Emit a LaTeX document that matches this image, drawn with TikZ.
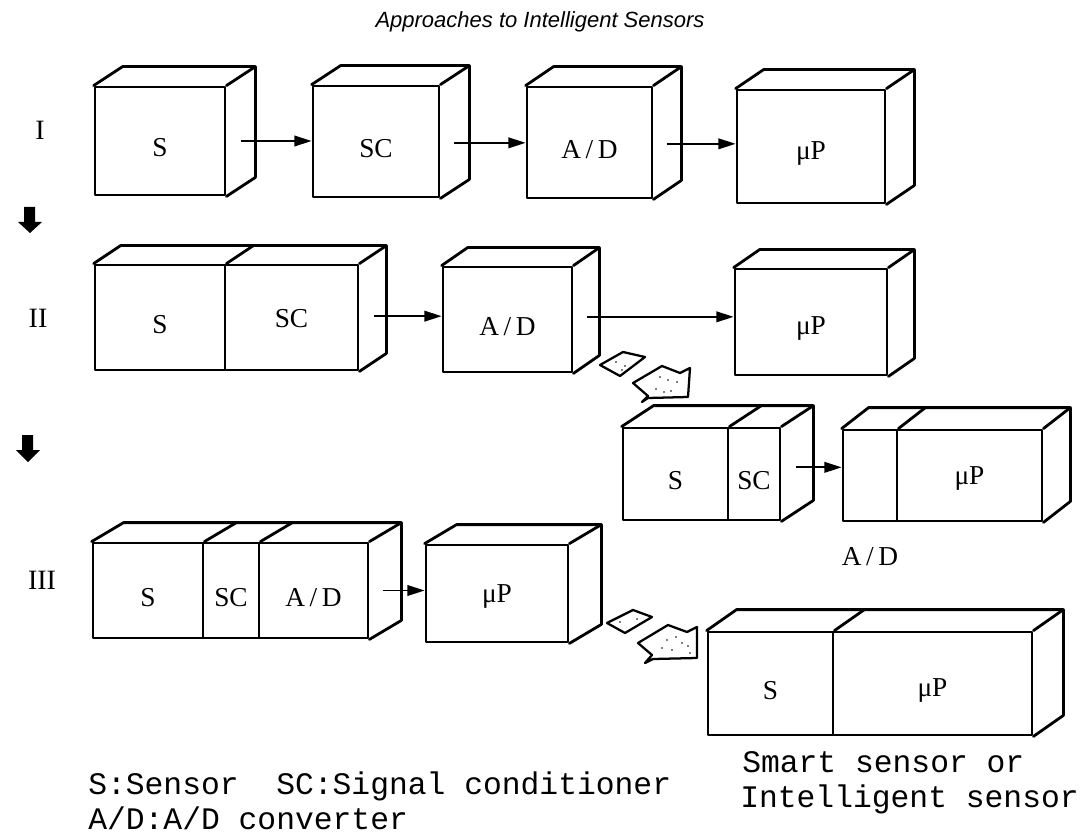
\documentclass[tikz,border=0pt]{standalone}
\usepackage{fontspec}
\setmainfont{Liberation Serif}
\setmonofont{Liberation Mono}
\newfontfamily\titlefont{Liberation Sans}
\usetikzlibrary{calc,fit,arrows.meta}
\tikzset{
  edge/.style={line width=2.1pt, line join=round, line cap=round},
  face/.style={edge, draw, inner sep=0pt},
  lbl/.style={inner sep=0pt, yshift=-5pt, font=\fontsize{20.5}{22}\selectfont},
  arr/.style={line width=1.4pt, -{Triangle[length=13pt,width=8pt]}},
  blob/.style={line width=1.7pt, line join=round},
  legend/.style={anchor=west, inner sep=0pt, font=\ttfamily\fontsize{23.5}{25}\selectfont},
  roman/.style={font=\fontsize{21}{23}\selectfont},
}
\newcommand{\cubefaces}[4]{%
  \draw[edge] (#1.north west) -- ++(#3,#4) -- ($(#2.north east)+(#3,#4)$) -- ($(#2.south east)+(#3,#4)$) -- (#2.south east);
  \draw[edge] (#2.north east) -- ++(#3,#4);}
\newcommand{\cubediv}[3]{\draw[edge] (#1.north east) -- ++(#2,#3);}
\newcommand{\hconn}[4]{% from node #1 (x shift #3, y shift #4) to node #2
  \coordinate (#1-out) at ([xshift=#3,yshift=#4]#1.east);
  \draw[arr] (#1-out) -- (#1-out -| #2.west);}
\begin{document}
\begin{tikzpicture}[x=0.75pt,y=-0.75pt]
\useasboundingbox (0,0) rectangle (1081,834);
% title
\node[font=\titlefont\itshape\fontsize{16.5}{18}\selectfont] (title) at (540,22) {Approaches to Intelligent Sensors};
% roman numerals
\node[roman] (r1) at (40,130) {I};
\node[roman] (r2) at (38,318) {II};
\node[roman] (r3) at (42,580) {III};
% down arrows
\fill (24,207) -- (35,207) -- (35,222) -- (42,222) -- (30,233) -- (18,222) -- (24,222) -- cycle;
\fill (22,435) -- (33,435) -- (33,450) -- (40,450) -- (28,462) -- (16,450) -- (22,450) -- cycle;

% Row I
\node[face, fit={(95,87) (225,195)}] (s1) {};
\node[face, fit={(313,86) (439,197)}] (sc1) {};
\node[face, fit={(527,87) (652,198)}] (ad1) {};
\node[face, fit={(737,90) (885,203)}] (up1) {};
\node[lbl] (s1t) at (s1.center) {S};
\node[lbl] (sc1t) at (sc1.center) {SC};
\node[lbl] (ad1t) at (ad1.center) {A\,/\,D};
\node[lbl] (up1t) at (up1.center) {μP};
\cubefaces{s1}{s1}{29}{-19}
\cubefaces{sc1}{sc1}{29}{-19}
\cubefaces{ad1}{ad1}{28}{-19}
\cubefaces{up1}{up1}{28}{-19}
\hconn{s1}{sc1}{11pt}{0pt}
\hconn{sc1}{ad1}{10pt}{-1pt}
\hconn{ad1}{up1}{10pt}{-1pt}

% Row II
\node[face, fit={(95,265) (225,370)}] (s2) {};
\node[face, fit={(225,265) (358,370)}] (sc2) {};
\node[face, fit={(443,267) (572,372)}] (ad2) {};
\node[face, fit={(735,269) (887,375)}] (up2) {};
\node[lbl] (s2t) at (s2.center) {S};
\node[lbl] (sc2t) at ([yshift=4pt]sc2.center) {SC};
\node[lbl] (ad2t) at (ad2.center) {A\,/\,D};
\node[lbl] (up2t) at (up2.center) {μP};
\cubefaces{s2}{sc2}{27}{-18}
\cubediv{s2}{27}{-18}
\cubefaces{ad2}{ad2}{26}{-18}
\cubefaces{up2}{up2}{26}{-18}
\hconn{sc2}{ad2}{11pt}{1pt}
\hconn{ad2}{up2}{10pt}{2pt}

% Row II b
\node[face, fit={(623,428) (728,520)}] (s2b) {};
\node[face, fit={(728,428) (780,520)}] (sc2b) {};
\node[face, fit={(843,430) (897,521)}] (ad2b) {};
\node[face, fit={(897,430) (1042,521)}] (up2b) {};
\node[lbl] (s2bt) at (s2b.center) {S};
\node[lbl] (sc2bt) at (sc2b.center) {SC};
\node[lbl] (up2bt) at ([yshift=3pt]up2b.center) {μP};
\node[font=\fontsize{20.5}{22}\selectfont] (ad2bl) at (870,557) {A\,/\,D};
\cubefaces{s2b}{sc2b}{32}{-21}
\cubediv{s2b}{32}{-21}
\cubefaces{ad2b}{up2b}{27}{-21}
\cubediv{ad2b}{27}{-21}
\hconn{sc2b}{ad2b}{11pt}{5pt}

% Row III
\node[face, fit={(93,543) (203,638)}] (s3) {};
\node[face, fit={(203,543) (259,638)}] (sc3) {};
\node[face, fit={(259,543) (368,638)}] (ad3) {};
\node[face, fit={(426,545) (568,642)}] (up3) {};
\node[lbl] (s3t) at (s3.center) {S};
\node[lbl] (sc3t) at (sc3.center) {SC};
\node[lbl] (ad3t) at (ad3.center) {A\,/\,D};
\node[lbl] (up3t) at ([yshift=3pt]up3.center) {μP};
\cubefaces{s3}{ad3}{32}{-19}
\cubediv{s3}{32}{-19}
\cubediv{sc3}{32}{-19}
\cubefaces{up3}{up3}{32}{-19}
\hconn{ad3}{up3}{10pt}{0pt}

% Final smart sensor
\node[face, fit={(708,632) (833,735)}] (s4) {};
\node[face, fit={(833,632) (1032,735)}] (up4) {};
\node[lbl] (s4t) at (s4.center) {S};
\node[lbl] (up4t) at (up4.center) {μP};
\cubefaces{s4}{up4}{30}{-21}
\cubediv{s4}{30}{-21}

% dotted transition arrows (row II)
\draw[blob] (600,365) -- (623,352) -- (645,357) -- (620,376) -- cycle;
\draw[blob] (633,383) -- (662,366) -- (680,373) -- (690,368) -- (688,397) -- (648,398) -- (642,402) -- (648,396) -- cycle;
\foreach \p in {(616,362),(625,366),(622,370),(660,377),(668,380),(656,389),(664,392),(671,391),(677,382)}
  \fill \p circle (0.9);
% dotted transition arrows (row III)
\draw[blob] (607,623) -- (633,610) -- (652,617) -- (625,633) -- cycle;
\draw[blob] (638,643) -- (668,625) -- (687,632) -- (697,627) -- (697,658) -- (653,659) -- (645,663) -- (652,655) -- cycle;
\foreach \p in {(620,622),(637,619),(667,640),(676,637),(682,643),(662,648),(672,650),(688,646),(690,653)}
  \fill \p circle (0.9);

% legend
\node[legend] (lg1) at (88,786) {S:Sensor\ \ SC:Signal conditioner};
\node[legend] (lg2) at (88,818) {A/D:A/D converter};
\node[legend] (lg3) at (742,762) {Smart sensor or};
\node[legend] (lg4) at (740,799) {Intelligent sensor};
\end{tikzpicture}
\end{document}
